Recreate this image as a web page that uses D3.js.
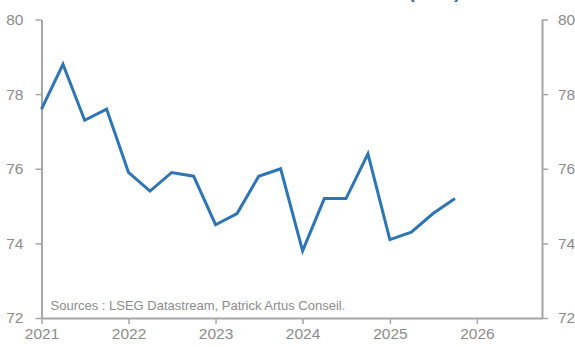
<!DOCTYPE html>
<html>
<head>
<meta charset="utf-8">
<script src="https://cdn.jsdelivr.net/npm/d3@7"></script>
<style>
  body { margin: 0; background: #fff; }
  svg { display: block; }
</style>
</head>
<body>
<div id="chart"></div>
<script>
// quarterly values, first quarter of 2021 to last quarter of 2025
var quarters = ["2021-01-01", "2021-04-01", "2021-07-01", "2021-10-01",
                "2022-01-01", "2022-04-01", "2022-07-01", "2022-10-01",
                "2023-01-01", "2023-04-01", "2023-07-01", "2023-10-01",
                "2024-01-01", "2024-04-01", "2024-07-01", "2024-10-01",
                "2025-01-01", "2025-04-01", "2025-07-01", "2025-10-01"];
var values = [77.6, 78.8, 77.3, 77.6,
              75.9, 75.4, 75.9, 75.8,
              74.5, 74.8, 75.8, 76.0,
              73.8, 75.2, 75.2, 76.4,
              74.1, 74.3, 74.8, 75.2];
var yTicks = [72, 74, 76, 78, 80];
var xTickYears = [2021, 2022, 2023, 2024, 2025, 2026];
var sourceText = "Sources : LSEG Datastream, Patrick Artus Conseil.";
var titleTail = "(en %)";

var W = 575, H = 347;
var margin = {top: 19.5, left: 41.5, right: 33, bottom: 29};
var width = W - margin.left - margin.right;
var height = H - margin.top - margin.bottom;

var parse = d3.timeParse("%Y-%m-%d");
var data = quarters.map(function(q, i) { return {date: parse(q), value: values[i]}; });

var axisColor = "#a6a6a6";
var textColor = "#8c8c8c";
var font = "'Liberation Sans', Arial, sans-serif";

var svg = d3.select("#chart")
    .append("svg")
    .attr("width", W)
    .attr("height", H);

// cut off title at the very top
svg.append("text")
    .attr("x", 460)
    .attr("y", -1)
    .attr("text-anchor", "end")
    .style("font-family", font)
    .style("font-weight", "bold")
    .style("font-size", "17px")
    .style("fill", "#2e5f8e")
    .text(titleTail);

var g = svg.append("g")
    .attr("transform", "translate(" + margin.left + "," + margin.top + ")");

var x = d3.scaleTime()
    .domain([new Date(2021, 0, 1), new Date(2026, 9, 1)])
    .range([0, width]);

var y = d3.scaleLinear()
    .domain([72, 80])
    .range([height, 0]);

function styleAxis(sel) {
    sel.select(".domain").attr("stroke", axisColor).attr("stroke-width", 2);
    sel.selectAll(".tick line").attr("stroke", axisColor).attr("stroke-width", 1.5);
    sel.selectAll(".tick text")
        .attr("fill", textColor)
        .style("font-family", font)
        .style("font-size", "15.5px");
}

// left axis
g.append("g")
    .call(d3.axisLeft(y).tickValues(yTicks).tickFormat(d3.format("d")).tickSize(6).tickSizeOuter(0).tickPadding(12))
    .call(styleAxis);

// right axis
g.append("g")
    .attr("transform", "translate(" + width + ",0)")
    .call(d3.axisRight(y).tickValues(yTicks).tickFormat(d3.format("d")).tickSize(6).tickSizeOuter(0).tickPadding(10))
    .call(styleAxis);

// bottom axis
g.append("g")
    .attr("transform", "translate(0," + height + ")")
    .call(d3.axisBottom(x)
        .tickValues(xTickYears.map(function(yr) { return new Date(yr, 0, 1); }))
        .tickFormat(d3.timeFormat("%Y"))
        .tickSize(6).tickSizeOuter(0).tickPadding(4))
    .call(styleAxis);

// the series
var line = d3.line()
    .x(function(d) { return x(d.date); })
    .y(function(d) { return y(d.value); });

g.append("path")
    .datum(data)
    .attr("fill", "none")
    .attr("stroke", "#2e75b6")
    .attr("stroke-width", 3)
    .attr("stroke-linejoin", "miter")
    .attr("d", line);

// sources
g.append("text")
    .attr("x", 9)
    .attr("y", height - 8)
    .style("font-family", font)
    .style("font-size", "13px")
    .style("fill", textColor)
    .text(sourceText);
</script>
</body>
</html>
